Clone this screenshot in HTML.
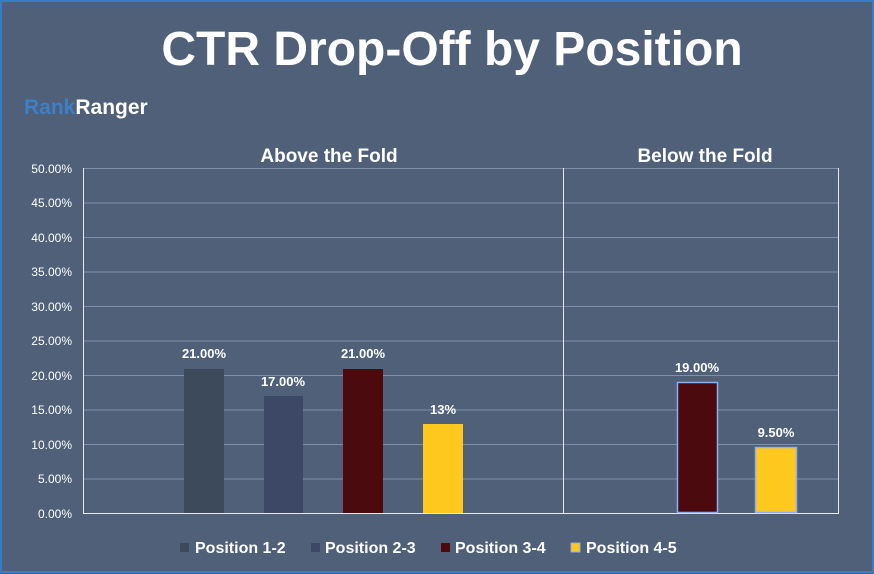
<!DOCTYPE html><html><head><style>body{margin:0;background:#4f6078}svg{display:block}</style></head><body>
<svg width="874" height="574" xmlns="http://www.w3.org/2000/svg" font-family="Liberation Sans, sans-serif">
<rect x="0" y="0" width="874" height="574" fill="#4f6078"/>
<rect x="1" y="1" width="872" height="571" fill="none" stroke="#3a7bc8" stroke-width="2"/>
<text x="452" y="65" text-anchor="middle" font-size="48" font-weight="bold" fill="#fff">CTR Drop-Off by Position</text>
<text x="24" y="114" font-size="21" font-weight="bold" fill="#3d7fc9">Rank<tspan fill="#fff">Ranger</tspan></text>
<text x="329" y="162" text-anchor="middle" font-size="19" font-weight="bold" fill="#fff">Above the Fold</text>
<text x="705" y="162" text-anchor="middle" font-size="19" font-weight="bold" fill="#fff">Below the Fold</text>
<g stroke="#7d91ad" stroke-width="1">
<line x1="83" x2="838" y1="168.5" y2="168.5"/><line x1="83" x2="838" y1="203" y2="203"/><line x1="83" x2="838" y1="237.5" y2="237.5"/><line x1="83" x2="838" y1="272" y2="272"/><line x1="83" x2="838" y1="306.5" y2="306.5"/><line x1="83" x2="838" y1="341" y2="341"/><line x1="83" x2="838" y1="375.5" y2="375.5"/><line x1="83" x2="838" y1="410" y2="410"/><line x1="83" x2="838" y1="444.5" y2="444.5"/><line x1="83" x2="838" y1="479" y2="479"/>
</g>
<g stroke="#e6e9ef" stroke-width="1"><line x1="83.5" x2="83.5" y1="168" y2="513"/><line x1="563.5" x2="563.5" y1="168" y2="513"/><line x1="838.5" x2="838.5" y1="168" y2="513"/><line x1="83" x2="839" y1="513.5" y2="513.5"/></g>
<g font-size="12" fill="#fff" text-anchor="end">
<text x="72" y="173">50.00%</text><text x="72" y="207">45.00%</text><text x="72" y="242">40.00%</text><text x="72" y="276">35.00%</text><text x="72" y="311">30.00%</text><text x="72" y="345">25.00%</text><text x="72" y="380">20.00%</text><text x="72" y="414">15.00%</text><text x="72" y="449">10.00%</text><text x="72" y="483">5.00%</text><text x="72" y="518">0.00%</text>
</g>
<rect x="184" y="369" width="40" height="144" fill="#3c4a5c"/>
<rect x="264" y="396" width="39" height="117" fill="#3d4866"/>
<rect x="343" y="369" width="40" height="144" fill="#4b0a0e"/>
<rect x="423" y="424" width="40" height="89" fill="#ffc81e"/>
<rect x="677.5" y="382.5" width="40" height="130" fill="#4b0a0e" stroke="#8eb0f0" stroke-width="1.5"/>
<rect x="755.5" y="447.5" width="41" height="65" fill="#ffc81e" stroke="#8eb0f0" stroke-width="1.5"/>
<g font-size="13" font-weight="bold" fill="#fff" text-anchor="middle">
<text x="204" y="358">21.00%</text><text x="283" y="386">17.00%</text><text x="363" y="358">21.00%</text><text x="443" y="414">13%</text><text x="697" y="372">19.00%</text><text x="776" y="437">9.50%</text>
</g>
<g font-size="16" font-weight="bold" fill="#fff">
<rect x="180" y="543" width="9" height="9" fill="#3c4a5c"/><text x="195" y="553">Position 1-2</text>
<rect x="311" y="543" width="9" height="9" fill="#3d4866"/><text x="325" y="553">Position 2-3</text>
<rect x="441" y="543" width="9" height="9" fill="#4b0a0e"/><text x="455" y="553">Position 3-4</text>
<rect x="571" y="543" width="9" height="9" fill="#ffc81e" stroke="#8eb0f0"/><text x="586" y="553">Position 4-5</text>
</g>
</svg></body></html>
